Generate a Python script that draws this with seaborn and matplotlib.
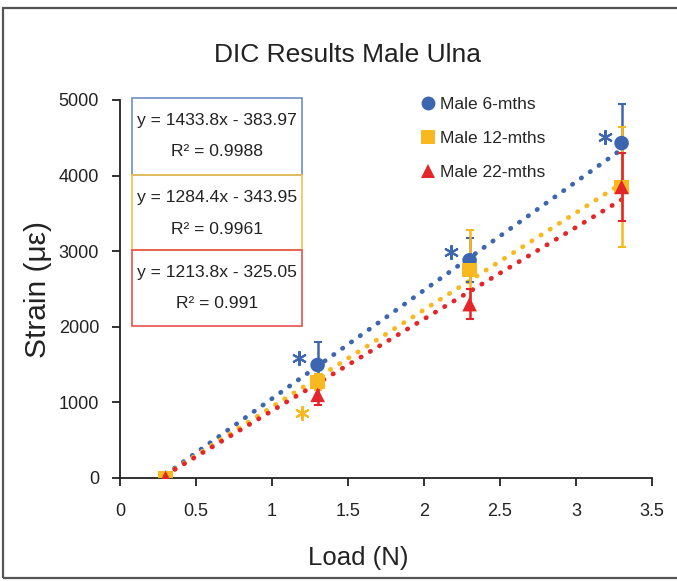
import numpy as np
import pandas as pd
import seaborn as sns
import matplotlib
matplotlib.use("Agg")
import matplotlib.pyplot as plt
from matplotlib.patches import Rectangle
from matplotlib.lines import Line2D

# ---- data ----
groups = ["Male 6-mths", "Male 12-mths", "Male 22-mths"]
load = [0.3, 1.3, 2.3, 3.3]
strain_6 = [0, 1495, 2880, 4430]
strain_12 = [0, 1270, 2750, 3850]
strain_22 = [0, 1100, 2300, 3850]
err_6 = [0, 300, 290, 520]
err_12 = [0, 100, 530, 795]
err_22 = [0, 130, 200, 450]
slopes = [1433.8, 1284.4, 1213.8]
intercepts = [-383.97, -343.95, -325.05]
r2_labels = ["0.9988", "0.9961", "0.991"]
eq_labels = ["y = 1433.8x - 383.97", "y = 1284.4x - 343.95", "y = 1213.8x - 325.05"]
star_x = [1.18, 1.2, 2.18, 3.19]
star_y = [1590, 860, 2990, 4510]
star_group = [0, 1, 0, 0]
x_ticks = [0, 0.5, 1, 1.5, 2, 2.5, 3, 3.5]
x_tick_labels = ["0", "0.5", "1", "1.5", "2", "2.5", "3", "3.5"]
y_ticks = [0, 1000, 2000, 3000, 4000, 5000]

colors = ["#3D66B1", "#F8B81F", "#E42529"]
box_colors = ["#6F8FC6", "#F3C24E", "#E8524A"]
markers = ["o", "s", "^"]

sns.set_theme(style="white")
plt.rcParams["font.family"] = ["Liberation Sans", "DejaVu Sans"]

fig = plt.figure(figsize=(6.77, 5.81), dpi=100)
ax = fig.add_axes([120/677, 1-478/581, (652-120)/677, (478-100)/581])

strains = [strain_6, strain_12, strain_22]
errs = [err_6, err_12, err_22]
df = pd.DataFrame({
    "load": load * 3,
    "strain": strain_6 + strain_12 + strain_22,
    "group": [g for g in groups for _ in load],
})

# trend lines
xs = np.array([load[0], load[-1]])
for i in range(3):
    ax.plot(xs, slopes[i] * xs + intercepts[i], color=colors[i], lw=3.4,
            linestyle=(0, (0.1, 2.2)), dash_capstyle="round", zorder=2)

# error bars
for i in range(3):
    ax.errorbar(load, strains[i], yerr=errs[i], fmt="none", ecolor=colors[i],
                elinewidth=1.8, capsize=3, capthick=1.5, zorder=3)

sns.scatterplot(data=df, x="load", y="strain", hue="group", style="group",
                palette=dict(zip(groups, colors)), markers=dict(zip(groups, markers)),
                s=110, linewidth=0, ax=ax, zorder=4, legend=False)

# asterisks (significance marks)
for sx, sy, g in zip(star_x, star_y, star_group):
    ax.plot([sx], [sy], marker=(6, 2, 0), markersize=10.5, markeredgewidth=1.5,
            color=colors[g], linestyle="none", zorder=5)

ax.set_xlim(0, 3.5)
ax.set_ylim(0, 5000)
ax.set_xticks(x_ticks)
ax.set_xticklabels(x_tick_labels)
ax.set_yticks(y_ticks)
ax.tick_params(axis="both", direction="out", length=6, width=1.3, colors="#222222",
               labelsize=13, left=True, bottom=True)
ax.tick_params(axis="x", pad=12)
ax.tick_params(axis="y", pad=9)
for side in ["top", "right"]:
    ax.spines[side].set_visible(False)
for side in ["left", "bottom"]:
    ax.spines[side].set_color("#222222")
    ax.spines[side].set_linewidth(1.3)
ax.set_xlabel("Load (N)", fontsize=18.5, color="#222222")
ax.xaxis.set_label_coords(0.447, -(558-478)/378, transform=ax.transAxes)
ax.xaxis.label.set_va("center")
ax.set_ylabel("Strain (με)", fontsize=21.5, color="#222222")
ax.yaxis.set_label_coords(-(120-38)/532, 0.5, transform=ax.transAxes)
ax.yaxis.label.set_va("center")
ax.grid(False)

# legend
handles = [Line2D([0], [0], marker=markers[i], color="none", markerfacecolor=colors[i],
                  markeredgewidth=0, markersize=10) for i in range(3)]
ax.legend(handles, groups, loc="upper left", bbox_to_anchor=(0.537, 1.05), frameon=False,
          fontsize=12.5, handlelength=0.8, handletextpad=0.3, labelspacing=1.08)

# title
fig.text(348/677, 1 - 55/581, "DIC Results Male Ulna", ha="center", va="center",
         fontsize=19, color="#222222")

# equation boxes
box_tops = [98, 175, 250]
box_bots = [175, 250, 326]
for i in range(3):
    t, b = box_tops[i], box_bots[i]
    fig.patches.append(Rectangle((132/677, 1-b/581), (302-132)/677, (b-t)/581,
                                 transform=fig.transFigure, fill=False,
                                 edgecolor=box_colors[i], lw=1.2, zorder=6))
    fig.text(217/677, 1-(t+22)/581, eq_labels[i], ha="center", va="center",
             fontsize=12.6, color="#222222")
    fig.text(217/677, 1-(t+54)/581, "R² = " + r2_labels[i], ha="center", va="center",
             fontsize=12.6, color="#222222")

# figure frame
fig.patches.append(Rectangle((3/677, 3/581), 680/677, (578-8)/581, transform=fig.transFigure,
                             fill=False, edgecolor="#555555", lw=1.6))

fig.savefig("out.png", dpi=100)
